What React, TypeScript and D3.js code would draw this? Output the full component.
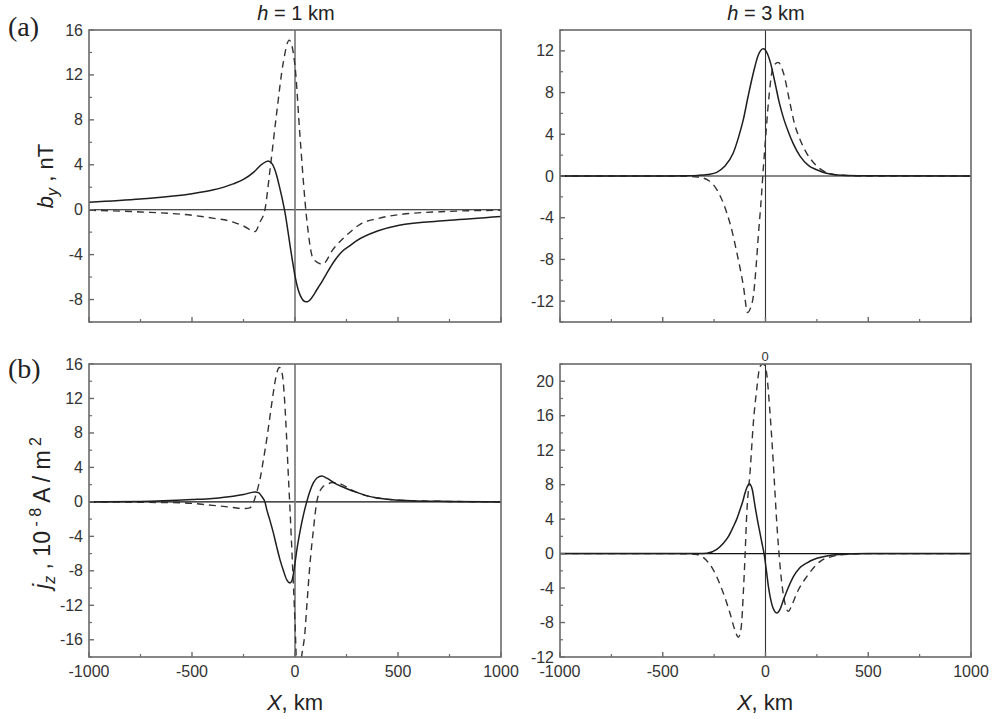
import React from 'react';
import * as d3 from 'd3';

// ---------- data ----------
const xMajorTicks = [-1000, -500, 0, 500, 1000];
const xMinorTicks = [-750, -250, 250, 750];

// (a) h = 1 km, b_y
const a1SolidX = [-1000,-750,-500,-400,-300,-250,-200,-160,-130,-110,-89,-73,-60,-48,-36,-24,-12,0,15,30,45,60,75,90,105,121,150,186,230,267,300,400,500,750,1000];
const a1SolidY = [0.67,0.95,1.42,1.75,2.3,2.7,3.35,4.05,4.34,4.05,3.05,1.85,0.8,-0.3,-1.7,-3.2,-4.6,-5.9,-7.1,-7.8,-8.15,-8.2,-8.0,-7.6,-7.15,-6.7,-5.8,-4.7,-3.7,-3.2,-2.75,-1.9,-1.4,-0.95,-0.6];
const a1DashX = [-1000,-750,-500,-400,-300,-250,-194,-170,-146,-121,-89,-57,-28,0,24,57,89,134,186,267,316,400,500,750,1000];
const a1DashY = [-0.05,-0.2,-0.5,-0.75,-1.1,-1.45,-1.95,-1.1,0,3.6,8.6,13.1,15.1,12.8,6.6,-0.85,-4.4,-4.85,-3.5,-2.0,-1.3,-0.8,-0.45,-0.15,-0.05];

// h = 3 km, b_y
const a2SolidX = [-1000,-500,-400,-330,-280,-237,-200,-157,-130,-108,-85,-59,-35,-11,10,25,38,50,65,87,110,135,168,210,249,297,350,450,1000];
const a2SolidY = [0,0,0.02,0.06,0.15,0.35,0.9,2.2,3.8,5.4,7.6,9.9,11.6,12.2,11.7,10.8,9.7,8.6,7.2,5.6,4.3,3.1,1.9,1.0,0.6,0.26,0.1,0.02,0];
const a2DashX = [-1000,-500,-400,-330,-280,-237,-189,-160,-140,-120,-108,-87,-72,-59,-45,-35,-20,-11,0,14,38,62,87,119,140,168,200,233,298,360,500,1000];
const a2DashY = [0,0,-0.02,-0.1,-0.4,-1.3,-3.5,-5.5,-7.3,-9.2,-10.5,-13.1,-12.6,-11.5,-8.5,-5.75,-2.0,0.64,3.5,7.0,10.5,10.9,9.9,7.0,5.1,3.5,2.2,1.3,0.33,0.08,0,0];

// (b) h = 1 km, j_z
const b1SolidX = [-1000,-750,-500,-400,-300,-250,-194,-175,-162,-146,-137,-121,-105,-89,-73,-56,-40,-24,-16,-8,0,10,20,32,45,57,72,89,108,130,155,190,230,270,300,350,400,500,750,1000];
const b1SolidY = [0,0.05,0.27,0.4,0.65,0.85,1.16,1.05,0.65,0,-0.9,-2.2,-3.6,-5.2,-6.7,-8.0,-9.05,-9.4,-9.2,-8.4,-7.1,-5.4,-4.0,-2.5,-1.1,0,1.2,2.2,2.8,3.0,2.75,2.2,1.75,1.35,1.1,0.7,0.45,0.2,0.05,0];
const b1DashX = [-1000,-750,-560,-400,-300,-251,-220,-202,-185,-170,-154,-137,-120,-105,-90,-76,-65,-57,-45,-33,-24,-16,-8,0,10,20,32,48,57,73,89,105,120,137,154,180,220,270,300,350,400,500,750,1000];
const b1DashY = [0,-0.05,-0.1,-0.4,-0.65,-0.78,-0.7,-0.1,1.2,2.6,4.8,7.3,10.2,12.7,14.8,15.6,15.2,13.9,9.5,3.4,-1.0,-5.2,-9.5,-14,-20,-21,-18,-15.2,-12.2,-7.1,-3.3,-0.1,1.2,1.8,2.0,2.25,2.1,1.45,1.1,0.7,0.45,0.2,0.05,0];

// h = 3 km, j_z
const b2SolidX = [-1000,-500,-400,-330,-286,-237,-205,-180,-157,-140,-124,-110,-100,-90,-79,-65,-51,-40,-27,-17,-7,4,14,30,42,54,70,87,110,135,165,200,250,298,360,500,1000];
const b2SolidY = [0,0,0,0.01,0.05,0.5,1.2,2.0,3.1,4.0,5.1,6.1,7.0,7.7,8.1,7.5,5.5,4.0,2.4,1.2,0,-1.9,-3.8,-5.8,-6.6,-6.9,-6.5,-5.4,-4.0,-2.7,-1.7,-1.1,-0.55,-0.27,-0.1,0,0];
const b2DashX = [-1000,-500,-400,-335,-300,-254,-205,-173,-150,-132,-118,-108,-100,-91,-75,-59,-43,-27,-12,2,22,38,54,71,95,111,130,152,200,265,330,400,500,1000];
const b2DashY = [0,0,-0.02,-0.1,-0.5,-1.9,-4.6,-6.9,-8.8,-9.7,-8.5,-4.6,-0.5,4.7,9.5,15.2,19.0,21.7,22.0,21.4,16.3,10.5,3.9,-1.5,-5.8,-6.7,-5.9,-4.6,-2.7,-0.93,-0.3,-0.08,0,0];

const a1YTicks = [-8,-4,0,4,8,12,16];
const a2YTicks = [-12,-8,-4,0,4,8,12];
const b1YTicks = [-16,-12,-8,-4,0,4,8,12,16];
const b2YTicks = [-12,-8,-4,0,4,8,12,16,20];
const xTickLabels = ['-1000', '-500', '0', '500', '1000'];

// ---------- drawing ----------
const FONT = "'Liberation Sans', Arial, Helvetica, sans-serif";
const SERIF = "'Liberation Serif', 'Times New Roman', serif";

type PanelProps = {
  id: string;
  left: number; right: number; top: number; bottom: number;
  yDomain: [number, number];
  yTicks: number[];
  solidX: number[]; solidY: number[];
  dashX: number[]; dashY: number[];
  showXLabels: boolean;
  grayZero: boolean;
};

function Panel(p: PanelProps) {
  const x = d3.scaleLinear().domain([-1000, 1000]).range([p.left, p.right]);
  const y = d3.scaleLinear().domain(p.yDomain).range([p.bottom, p.top]);
  const line = d3.line<[number, number]>()
    .x(d => x(d[0]))
    .y(d => y(d[1]))
    .curve(d3.curveMonotoneX);
  const solid = p.solidX.map((v, i) => [v, p.solidY[i]] as [number, number]);
  const dash = p.dashX.map((v, i) => [v, p.dashY[i]] as [number, number]);
  const minorY = d3.range(Math.ceil(p.yDomain[0] / 2) * 2, p.yDomain[1] + 0.001, 2)
    .filter(v => !p.yTicks.includes(v));
  const frame = '#6a6a6a';
  return (
    <g>
      <defs>
        <clipPath id={'clip-' + p.id}>
          <rect x={p.left} y={p.top} width={p.right - p.left} height={p.bottom - p.top} />
        </clipPath>
      </defs>
      <line x1={p.left} x2={p.right} y1={y(0)} y2={y(0)} stroke="#111" strokeWidth={1.1} />
      <line x1={x(0)} x2={x(0)} y1={p.top} y2={p.bottom}
        stroke={p.grayZero ? '#7c7c7c' : '#333'} strokeWidth={p.grayZero ? 1.7 : 1.1} />
      <g clipPath={`url(#clip-${p.id})`} fill="none">
        <path d={line(dash) || ''} stroke="#333" strokeWidth={1.4} strokeDasharray="7,5" />
        <path d={line(solid) || ''} stroke="#1e1e1e" strokeWidth={1.5} />
      </g>
      <rect x={p.left} y={p.top} width={p.right - p.left} height={p.bottom - p.top}
        fill="none" stroke={frame} strokeWidth={1.6} />
      {xMajorTicks.map(t => (
        <line key={'xm' + t} x1={x(t)} x2={x(t)} y1={p.bottom} y2={p.bottom - 5} stroke={frame} strokeWidth={1.4} />
      ))}
      {xMinorTicks.map(t => (
        <line key={'xn' + t} x1={x(t)} x2={x(t)} y1={p.bottom} y2={p.bottom - 3} stroke={frame} strokeWidth={1.2} />
      ))}
      {p.showXLabels && xMajorTicks.map((t, i) => (
        <text key={'xl' + t} x={x(t)} y={p.bottom + 20} textAnchor="middle" fontFamily={FONT} fontSize={16} fill="#333">
          {xTickLabels[i]}
        </text>
      ))}
      {p.yTicks.map(t => (
        <g key={'ym' + t}>
          <line x1={p.left} x2={p.left + 5} y1={y(t)} y2={y(t)} stroke={frame} strokeWidth={1.4} />
          <text x={p.left - 6} y={y(t) + 5.5} textAnchor="end" fontFamily={FONT} fontSize={16} fill="#333">{t}</text>
        </g>
      ))}
      {minorY.map(t => (
        <line key={'yn' + t} x1={p.left} x2={p.left + 3} y1={y(t)} y2={y(t)} stroke={frame} strokeWidth={1.2} />
      ))}
    </g>
  );
}

export default function App() {
  return (
    <svg width={993} height={719} style={{ position: 'absolute', left: 0, top: 0, background: '#fff' }}>
      <rect x={0} y={0} width={993} height={719} fill="#fff" />
      <Panel id="a1" left={89} right={501} top={30} bottom={322} yDomain={[-10, 16]} yTicks={a1YTicks}
        solidX={a1SolidX} solidY={a1SolidY} dashX={a1DashX} dashY={a1DashY} showXLabels={false} grayZero={true} />
      <Panel id="a2" left={560} right={971} top={30} bottom={322} yDomain={[-14, 14]} yTicks={a2YTicks}
        solidX={a2SolidX} solidY={a2SolidY} dashX={a2DashX} dashY={a2DashY} showXLabels={false} grayZero={false} />
      <Panel id="b1" left={89} right={501} top={364} bottom={657} yDomain={[-18, 16]} yTicks={b1YTicks}
        solidX={b1SolidX} solidY={b1SolidY} dashX={b1DashX} dashY={b1DashY} showXLabels={true} grayZero={true} />
      <Panel id="b2" left={560} right={971} top={364} bottom={657} yDomain={[-12, 22]} yTicks={b2YTicks}
        solidX={b2SolidX} solidY={b2SolidY} dashX={b2DashX} dashY={b2DashY} showXLabels={true} grayZero={false} />

      <text x={8} y={36} fontFamily={SERIF} fontSize={28} fill="#222">(a)</text>
      <text x={8} y={378} fontFamily={SERIF} fontSize={28} fill="#222">(b)</text>

      <text x={296} y={20} textAnchor="middle" fontFamily={FONT} fontSize={20} fill="#222">
        <tspan fontStyle="italic">h</tspan> = 1 km
      </text>
      <text x={766} y={20} textAnchor="middle" fontFamily={FONT} fontSize={20} fill="#222">
        <tspan fontStyle="italic">h</tspan> = 3 km
      </text>

      <text x={765} y={361} textAnchor="middle" fontFamily={FONT} fontSize={13} fill="#333">0</text>

      <text transform="translate(53,176) rotate(-90)" textAnchor="middle" fontFamily={FONT} fontSize={22} fill="#222">
        <tspan fontStyle="italic">b</tspan>
        <tspan fontStyle="italic" fontSize={16} dy={5}>y</tspan>
        <tspan dy={-5}> , nT</tspan>
      </text>
      <text transform="translate(50,513) rotate(-90)" textAnchor="middle" fontFamily={FONT} fontSize={23} fill="#222">
        <tspan fontStyle="italic">j</tspan>
        <tspan fontStyle="italic" fontSize={16} dy={5}>z</tspan>
        <tspan dy={-5}> ,  10</tspan>
        <tspan fontSize={16} dy={-9}> - 8</tspan>
        <tspan dy={9}> A / m</tspan>
        <tspan fontSize={16} dy={-9}> 2</tspan>
      </text>

      <text x={295} y={710} textAnchor="middle" fontFamily={FONT} fontSize={22} fill="#222">
        <tspan fontStyle="italic">X</tspan>, km
      </text>
      <text x={765} y={710} textAnchor="middle" fontFamily={FONT} fontSize={22} fill="#222">
        <tspan fontStyle="italic">X</tspan>, km
      </text>
    </svg>
  );
}
